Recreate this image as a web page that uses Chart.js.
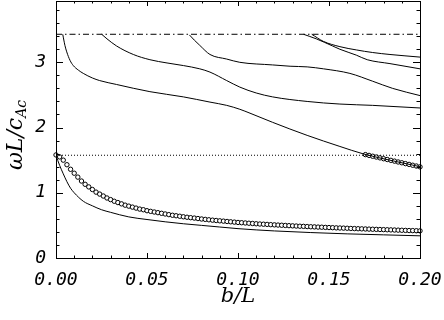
<!DOCTYPE html>
<html>
<head>
<meta charset="utf-8">
<script src="https://cdn.jsdelivr.net/npm/chart.js@4/dist/chart.umd.min.js"></script>
<style>
  body { margin: 0; background: #fff; }
  #wrap { width: 444px; height: 320px; }
</style>
</head>
<body>
<div id="wrap"><canvas id="spaceForGraphic" width="444" height="320"></canvas></div>
<script>
// eje X: b/L, eje Y: omega L / c_Ac
const xTickLabels = [0.00, 0.05, 0.10, 0.15, 0.20];
const yTickLabels = [0, 1, 2, 3];

// niveles horizontales
const cutoffLevel = 3.43; // linea punto-raya
const dottedLevel = 1.575; // linea punteada

// modo fundamental (linea continua)
const mode1B = [0, 0.002, 0.004, 0.006, 0.008, 0.010, 0.015, 0.020, 0.025, 0.030, 0.040,
  0.050, 0.060, 0.070, 0.080, 0.090, 0.100, 0.120, 0.140, 0.160, 0.180, 0.200];
const mode1V = [1.57, 1.42, 1.29, 1.17, 1.07, 1.00, 0.87, 0.80, 0.74, 0.70, 0.63,
  0.59, 0.555, 0.525, 0.50, 0.475, 0.45, 0.415, 0.39, 0.37, 0.355, 0.34];

// modo 2
const mode2B = [0.0037, 0.0049, 0.0059, 0.0077, 0.0095, 0.0123, 0.015, 0.020, 0.024, 0.0333,
  0.0516, 0.070, 0.0846, 0.0938, 0.101, 0.1066, 0.119, 0.138, 0.156, 0.169, 0.185, 0.200];
const mode2V = [3.43, 3.26, 3.16, 3.03, 2.95, 2.88, 2.83, 2.76, 2.72, 2.66,
  2.55, 2.47, 2.39, 2.34, 2.28, 2.22, 2.08, 1.88, 1.71, 1.595, 1.49, 1.40];

// modo 3
const mode3B = [0.0251, 0.028, 0.0333, 0.0425, 0.0516, 0.061, 0.070, 0.079, 0.0846, 0.0938,
  0.101, 0.110, 0.119, 0.138, 0.156, 0.174, 0.200];
const mode3V = [3.43, 3.36, 3.25, 3.12, 3.04, 2.99, 2.95, 2.90, 2.85, 2.72,
  2.62, 2.53, 2.47, 2.40, 2.36, 2.34, 2.30];

// modo 4
const mode4B = [0.0733, 0.076, 0.079, 0.0846, 0.0938, 0.101, 0.119, 0.1286, 0.138, 0.147,
  0.1615, 0.174, 0.185, 0.200];
const mode4V = [3.42, 3.34, 3.26, 3.12, 3.05, 3.00, 2.96, 2.94, 2.93, 2.90,
  2.83, 2.71, 2.60, 2.49];

// modos 5 y 6
const mode5B = [0.136, 0.143, 0.152, 0.156, 0.165, 0.171, 0.1835, 0.200];
const mode5V = [3.43, 3.36, 3.25, 3.20, 3.11, 3.04, 2.98, 2.90];
const mode6B = [0.1405, 0.147, 0.156, 0.165, 0.174, 0.1835, 0.200];
const mode6V = [3.43, 3.32, 3.24, 3.19, 3.15, 3.12, 3.08];

// circulos (modo inferior)
const circleB = [
  0.000, 0.002, 0.004, 0.006, 0.008, 0.010, 0.012, 0.014, 0.016, 0.018,
  0.020, 0.022, 0.024, 0.026, 0.028, 0.030, 0.032, 0.034, 0.036, 0.038,
  0.040, 0.042, 0.044, 0.046, 0.048, 0.050, 0.052, 0.054, 0.056, 0.058,
  0.060, 0.062, 0.064, 0.066, 0.068, 0.070, 0.072, 0.074, 0.076, 0.078,
  0.080, 0.082, 0.084, 0.086, 0.088, 0.090, 0.092, 0.094, 0.096, 0.098,
  0.100, 0.102, 0.104, 0.106, 0.108, 0.110, 0.112, 0.114, 0.116, 0.118,
  0.120, 0.122, 0.124, 0.126, 0.128, 0.130, 0.132, 0.134, 0.136, 0.138,
  0.140, 0.142, 0.144, 0.146, 0.148, 0.150, 0.152, 0.154, 0.156, 0.158,
  0.160, 0.162, 0.164, 0.166, 0.168, 0.170, 0.172, 0.174, 0.176, 0.178,
  0.180, 0.182, 0.184, 0.186, 0.188, 0.190, 0.192, 0.194, 0.196, 0.198,
  0.200];
const circleV = [
  1.58, 1.55, 1.50, 1.43, 1.36, 1.30, 1.24, 1.18, 1.13, 1.09,
  1.05, 1.01, 0.98, 0.95, 0.92, 0.895, 0.87, 0.85, 0.83, 0.81,
  0.795, 0.78, 0.765, 0.75, 0.74, 0.725, 0.715, 0.705, 0.695, 0.685,
  0.675, 0.665, 0.655, 0.648, 0.64, 0.632, 0.625, 0.618, 0.612, 0.605,
  0.598, 0.592, 0.586, 0.58, 0.575, 0.57, 0.565, 0.56, 0.555, 0.55,
  0.545, 0.541, 0.537, 0.533, 0.529, 0.525, 0.521, 0.518, 0.515, 0.511,
  0.508, 0.505, 0.502, 0.499, 0.496, 0.493, 0.49, 0.487, 0.485, 0.482,
  0.479, 0.477, 0.474, 0.472, 0.469, 0.467, 0.465, 0.462, 0.46, 0.458,
  0.456, 0.453, 0.451, 0.449, 0.447, 0.445, 0.443, 0.441, 0.439, 0.437,
  0.435, 0.433, 0.431, 0.429, 0.427, 0.425, 0.423, 0.421, 0.42, 0.418,
  0.416];

// circulos sobre el modo 2 (debajo de la linea punteada)
const upCircleB = [0.170, 0.172, 0.174, 0.176, 0.178, 0.180, 0.182, 0.184,
  0.186, 0.188, 0.190, 0.192, 0.194, 0.196, 0.198, 0.200];
const upCircleV = [1.585, 1.573, 1.560, 1.548, 1.535, 1.522, 1.510, 1.497,
  1.485, 1.472, 1.460, 1.447, 1.435, 1.422, 1.410, 1.397];

const xMin = 0, xMax = 0.2, yMin = 0, yMax = 3.94;

function pts(xs, ys) {
  return xs.map((x, i) => ({ x: x, y: ys[i] }));
}

function solid(xs, ys) {
  return { data: pts(xs, ys), borderColor: "#000", borderWidth: 1, pointRadius: 0, fill: false,
    cubicInterpolationMode: "monotone" };
}

function circles(xs, ys) {
  return {
    data: pts(xs, ys), showLine: false, pointRadius: 2.2, pointStyle: "circle",
    borderColor: "#000", backgroundColor: "#fff", pointBorderWidth: 1, clip: false,
  };
}

const hershey = '"DejaVu Sans Mono"';

// marco y marcas hacia adentro, estilo IDL
const idlFrame = {
  id: "idlFrame",
  afterDraw(chart) {
    const { ctx, chartArea: a, scales } = chart;
    const x = scales.x, y = scales.y;
    ctx.save();
    ctx.strokeStyle = "#000";
    ctx.lineWidth = 1;
    ctx.strokeRect(a.left + 0.5, a.top + 0.5, a.right - a.left, a.bottom - a.top);
    ctx.beginPath();
    for (let i = 0; i <= 20; i++) {
      const px = Math.round(x.getPixelForValue(i * 0.01)) + 0.5;
      const len = i % 5 === 0 ? 5 : 2.5;
      ctx.moveTo(px, a.bottom); ctx.lineTo(px, a.bottom - len);
      ctx.moveTo(px, a.top); ctx.lineTo(px, a.top + len);
    }
    for (let i = 0; i <= 19; i++) {
      const v = i * 0.2;
      if (v > yMax) break;
      const py = Math.round(y.getPixelForValue(v)) + 0.5;
      const len = i % 5 === 0 ? 7 : 3.5;
      ctx.moveTo(a.left, py); ctx.lineTo(a.left + len, py);
      ctx.moveTo(a.right, py); ctx.lineTo(a.right - len, py);
    }
    ctx.stroke();

    // titulos de ejes
    ctx.fillStyle = "#000";
    ctx.font = 'italic 21px "DejaVu Serif"';
    ctx.textAlign = "center";
    ctx.textBaseline = "alphabetic";
    ctx.fillText("b/L", (a.left + a.right) / 2, 302);

    ctx.translate(22, 135);
    ctx.rotate(-Math.PI / 2);
    ctx.textAlign = "left";
    const main = "\u03c9L/c";
    ctx.font = 'italic 22px "DejaVu Serif"';
    const w1 = ctx.measureText(main).width;
    ctx.font = 'italic 14px "DejaVu Serif"';
    const w2 = ctx.measureText("Ac").width;
    const start = -(w1 + w2) / 2;
    ctx.font = 'italic 22px "DejaVu Serif"';
    ctx.fillText(main, start, 0);
    ctx.font = 'italic 14px "DejaVu Serif"';
    ctx.fillText("Ac", start + w1, 4);
    ctx.restore();
  },
};

new Chart(document.getElementById("spaceForGraphic"), {
  type: "line",
  data: {
    datasets: [
      { data: pts([xMin, xMax], [cutoffLevel, cutoffLevel]), borderColor: "#000", borderWidth: 1,
        borderDash: [6, 3, 1.5, 3], pointRadius: 0 },
      { data: pts([xMin, xMax], [dottedLevel, dottedLevel]), borderColor: "#000", borderWidth: 1,
        borderDash: [1, 2], pointRadius: 0 },
      solid(mode1B, mode1V),
      solid(mode2B, mode2V),
      solid(mode3B, mode3V),
      solid(mode4B, mode4V),
      solid(mode5B, mode5V),
      solid(mode6B, mode6V),
      circles(circleB, circleV),
      circles(upCircleB, upCircleV),
    ],
  },
  options: {
    responsive: false,
    animation: false,
    layout: { autoPadding: false, padding: { top: 1, right: 24, left: 0, bottom: 0 } },
    plugins: { legend: { display: false }, tooltip: { enabled: false } },
    scales: {
      x: {
        type: "linear",
        min: xMin,
        max: xMax,
        afterFit: (s) => { s.height = 62; s.paddingLeft = 0; s.paddingRight = 0; },
        afterBuildTicks: (s) => { s.ticks = xTickLabels.map((v) => ({ value: v })); },
        grid: { display: false, drawTicks: false },
        border: { display: false },
        ticks: {
          autoSkip: false,
          maxRotation: 0,
          padding: 12,
          color: "#000",
          font: { family: hershey, size: 18, style: "italic" },
          callback: (v) => Number(v).toFixed(2),
        },
      },
      y: {
        type: "linear",
        min: yMin,
        max: yMax,
        afterFit: (s) => { s.width = 56; s.paddingTop = 0; s.paddingBottom = 0; },
        afterBuildTicks: (s) => { s.ticks = yTickLabels.map((v) => ({ value: v })); },
        grid: { display: false, drawTicks: false },
        border: { display: false },
        ticks: {
          padding: 10,
          color: "#000",
          font: { family: hershey, size: 18, style: "italic" },
          callback: (v) => String(v),
        },
      },
    },
  },
  plugins: [idlFrame],
});
</script>
</body>
</html>
